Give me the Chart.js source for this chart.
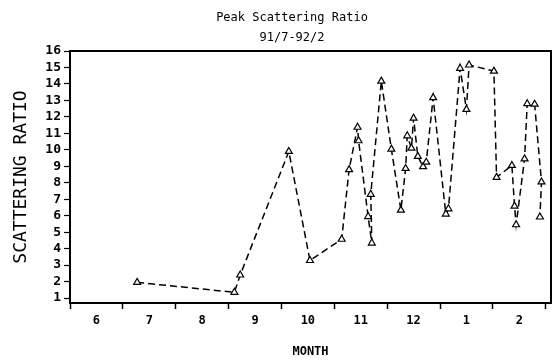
<!DOCTYPE html>
<html>
<head>
<meta charset="utf-8">
<title>Peak Scattering Ratio</title>
<script src="https://cdn.jsdelivr.net/npm/chart.js@4"></script>
<style>
    body { margin: 0; background: #fff; }
    #wrap { width: 557px; height: 360px; position: relative; }
</style>
</head>
<body>
<div id="wrap"><canvas id="ratioChart"></canvas></div>
<script>
// months counted from 1 June 1991 (0 = start of June, 1 = start of July ...)
const months = [1.27, 3.11, 3.22, 4.14, 4.54, 5.14, 5.28, 5.44, 5.46, 5.64,
    5.71, 5.69, 5.89, 6.08, 6.26, 6.35, 6.38, 6.46, 6.50, 6.58,
    6.68, 6.74, 6.87, 7.11, 7.16, 7.38, 7.50, 7.55, 8.02, 8.07,
    8.36, 8.41, 8.44, 8.60, 8.65, 8.79, 8.92, 8.89];
const ratios = [1.95, 1.35, 2.4, 9.9, 3.28, 4.57, 8.8, 11.37, 10.55, 5.95,
    4.34, 7.3, 14.17, 10.04, 6.34, 8.87, 10.85, 10.1, 11.92, 9.6,
    8.98, 9.25, 13.17, 6.1, 6.42, 14.95, 12.45, 15.15, 14.78, 8.33,
    9.05, 6.58, 5.45, 9.45, 12.8, 12.77, 8.05, 5.92];
const monthLabels = ['6', '7', '8', '9', '10', '11', '12', '1', '2'];
const yTicks = [1, 2, 3, 4, 5, 6, 7, 8, 9, 10, 11, 12, 13, 14, 15, 16];

const titleLines = ['Peak Scattering Ratio', '91/7-92/2'];

Chart.defaults.color = '#000';

// titles and box around the plot
const frame = {
    id: 'frame',
    afterDraw(chart) {
        const c = chart.ctx;
        const a = chart.chartArea;
        c.save();
        c.strokeStyle = '#000';
        c.lineWidth = 2;
        c.strokeRect(a.left, a.top, a.right - a.left, a.bottom - a.top);
        c.font = '12px "DejaVu Sans Mono"';
        c.textAlign = 'center';
        c.textBaseline = 'middle';
        c.fillStyle = '#000';
        c.fillText(titleLines[0], 292, 18);
        c.fillText(titleLines[1], 292, 38);
        c.restore();
    }
};

const points = months.map((m, i) => ({ x: m, y: ratios[i] }));

const ctx = document.getElementById('ratioChart').getContext('2d');
const chart = new Chart(ctx, {
    type: 'line',
    data: {
        datasets: [{
            data: points,
            borderColor: '#000',
            borderWidth: 1.5,
            borderDash: [7, 4],
            tension: 0,
            fill: false,
            pointStyle: 'triangle',
            pointRadius: 4,
            pointBackgroundColor: '#fff',
            pointBorderColor: '#000',
            pointBorderWidth: 1.2
        }]
    },
    options: {
        responsive: true,
        maintainAspectRatio: false,
        animation: false,
        layout: { padding: { top: 51, right: 6, left: 0, bottom: 0 } },
        plugins: {
            legend: { display: false },
            tooltip: { enabled: false }
        },
        scales: {
            x: {
                type: 'linear',
                min: 0,
                max: 9.1,
                afterBuildTicks(axis) {
                    const t = [];
                    for (let v = 0; v <= 9; v += 0.5) t.push({ value: v });
                    axis.ticks = t;
                },
                afterFit(axis) { axis.height = 57; },
                ticks: {
                    autoSkip: false,
                    maxRotation: 0,
                    padding: 5,
                    font: { family: 'DejaVu Sans Mono', size: 12, weight: 'bold' },
                    callback: (v) => Number.isInteger(v) ? '' : monthLabels[Math.floor(v)]
                },
                grid: {
                    drawOnChartArea: false,
                    tickLength: 6,
                    tickColor: (c) => Number.isInteger(c.tick.value) ? '#000' : 'rgba(0,0,0,0)',
                    tickWidth: 1.5
                },
                border: { color: '#000', width: 2 },
                title: {
                    display: true,
                    text: 'MONTH',
                    padding: { top: 0, bottom: 1 },
                    font: { family: 'DejaVu Sans Mono', size: 12, weight: 'bold' }
                }
            },
            y: {
                min: 0.7,
                max: 16,
                afterBuildTicks(axis) {
                    axis.ticks = yTicks.map(v => ({ value: v }));
                },
                afterFit(axis) { axis.width = 70; },
                ticks: {
                    autoSkip: false,
                    padding: 3,
                    font: { family: 'DejaVu Sans Mono', size: 13, weight: 'bold' }
                },
                grid: {
                    drawOnChartArea: false,
                    tickLength: 6,
                    tickColor: '#000',
                    tickWidth: 1.2
                },
                border: { color: '#000', width: 2 },
                title: {
                    display: true,
                    text: 'SCATTERING RATIO',
                    padding: { top: 11, bottom: 0 },
                    font: { family: 'DejaVu Sans Mono', size: 18 }
                }
            }
        }
    },
    plugins: [frame]
});
</script>
</body>
</html>
